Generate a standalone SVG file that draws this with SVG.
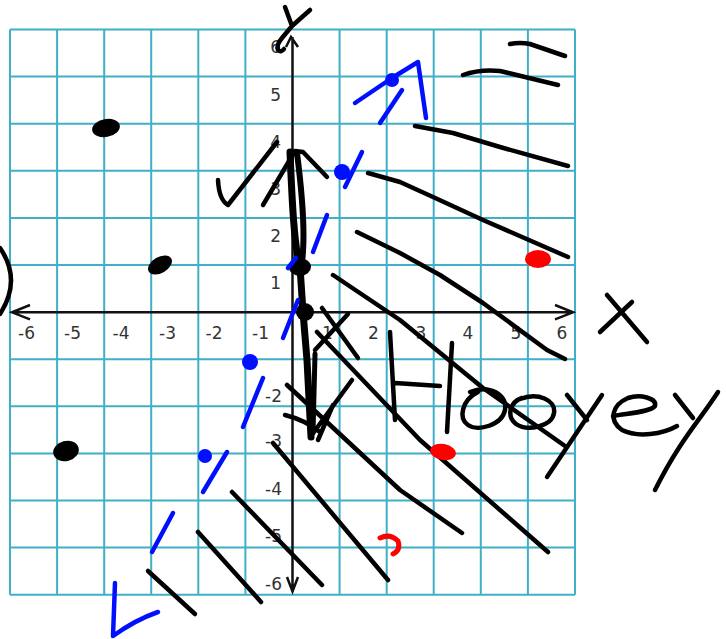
<svg xmlns="http://www.w3.org/2000/svg" width="726" height="639" viewBox="0 0 726 639">
<style>
.g{stroke:#3fb0c8;stroke-width:2;fill:none}
.ax{stroke:#111;stroke-width:2.5;fill:none}
.t{font-family:"DejaVu Sans",sans-serif;font-size:17px;fill:#333}
.k{stroke:#000;stroke-width:4.5;fill:none;stroke-linecap:round;stroke-linejoin:round}
.b{stroke:#0010ff;stroke-width:4.5;fill:none;stroke-linecap:round;stroke-linejoin:round}
</style>
<rect width="726" height="639" fill="#fff"/>
<g id="grid" class="g">
<path d="M10,29.5V594.7M57.1,29.5V594.7M104.2,29.5V594.7M151.2,29.5V594.7M198.3,29.5V594.7M245.4,29.5V594.7M339.6,29.5V594.7M386.7,29.5V594.7M433.7,29.5V594.7M480.8,29.5V594.7M527.9,29.5V594.7M575,29.5V594.7"/>
<path d="M10,29.5H575M10,76.6H575M10,123.7H575M10,170.8H575M10,217.9H575M10,265H575M10,359.2H575M10,406.3H575M10,453.4H575M10,500.5H575M10,547.6H575M10,594.7H575"/>
</g>
<g id="axes" class="ax">
<path d="M12,312.3H573M30,305L12,312.3L30,319.3M555,305L573,312.3L555,319.3"/>
<path d="M292.5,37V591.5M286,47L291,37L298,47M287,577L292.5,591.5L298,577"/>
</g>
<g id="labels" class="t">
<g text-anchor="middle">
<text x="26.5" y="339">-6</text><text x="72.5" y="339">-5</text><text x="121" y="339">-4</text><text x="167.5" y="339">-3</text><text x="214" y="339">-2</text><text x="260.5" y="339">-1</text>
<text x="327.5" y="339">1</text><text x="373.5" y="339">2</text><text x="421" y="339">3</text><text x="468" y="339">4</text><text x="516" y="339">5</text><text x="562" y="339">6</text>
</g>
<g text-anchor="end">
<text x="281" y="53">6</text><text x="281" y="101">5</text><text x="281" y="148">4</text><text x="281" y="195">3</text><text x="281" y="242">2</text><text x="281" y="289">1</text>
<text x="282" y="401.5">-2</text><text x="282" y="447">-3</text><text x="282" y="495">-4</text><text x="282" y="542">-5</text><text x="282" y="590">-6</text>
</g>
</g>
<g id="black-ink">
<path class="k" d="M285,7L292,26M310,10L292,26L282,38Q276,45 278,50Q281,53 284,49"/>
<path class="k" d="M0,248Q22,280 0,314"/>
<path class="k" d="M218,180Q219,200 228,205L277,142"/>
<path class="k" d="M263,205L295,151L303,152L327,177"/>
<path class="k" style="stroke-width:7" d="M290,152C292,200 294,245 300,267L303,312L307,360L311,437"/>
<path class="k" style="stroke-width:6" d="M297,153C303,200 305,240 302,262"/>
<path class="k" style="stroke-width:5" d="M315,354L313,433"/>
<path class="k" d="M311,436L352,380M318,440L333,405M285,415Q305,420 320,432"/>
<ellipse cx="300" cy="267" rx="11" ry="9"/>
<ellipse cx="305" cy="312" rx="9" ry="9"/>
<ellipse cx="106" cy="128" rx="14" ry="9" transform="rotate(-10 106 128)"/>
<ellipse cx="160" cy="265" rx="13" ry="8" transform="rotate(-30 160 265)"/>
<ellipse cx="66" cy="451" rx="13" ry="10" transform="rotate(-15 66 451)"/>
<path class="k" d="M463,75Q480,69 500,71L558,85M510,44Q520,42 530,44L565,56"/>
<path class="k" d="M415,126L453,133L500,147L568,166"/>
<path class="k" d="M368,173L400,182L433,197L483,220L568,257"/>
<path class="k" d="M357,232L400,253L440,275L483,303L547,350L565,359"/>
<path class="k" d="M333,275L400,320L483,388L565,446"/>
<path class="k" d="M322,308L358,358M348,314L315,350"/>
<path class="k" d="M317,332L420,440L548,552"/>
<path class="k" d="M287,385L400,490L462,533"/>
<path class="k" d="M273,443L388,580"/>
<path class="k" d="M232,492L322,585"/>
<path class="k" d="M198,532L261,602"/>
<path class="k" d="M148,571L195,614"/>
<path class="k" d="M390,332L395,420M395,383L440,386M452,343L447,432"/>
<path class="k" d="M470,392C490,384 508,395 505,410C502,425 478,432 468,425C458,418 462,400 478,392"/>
<path class="k" d="M520,399C538,392 556,400 554,413C552,426 528,432 516,424C506,416 510,402 522,398"/>
<path class="k" d="M567,395L587,420M602,395L547,477"/>
<path class="k" d="M613,416C630,413 650,412 655,406C657,398 640,394 628,398C612,405 608,420 622,430C638,438 663,434 677,426"/>
<path class="k" d="M675,395L693,418M718,392C700,420 680,440 655,490"/>
<path class="k" d="M607,295L647,342M632,302L600,332"/>
</g>
<g id="red-ink" fill="#ff0000">
<ellipse cx="538" cy="259" rx="13" ry="9"/>
<ellipse cx="443" cy="452" rx="13" ry="8" transform="rotate(10 443 452)"/>
<path d="M380,538Q390,533 398,541Q401,550 393,554" fill="none" stroke="#ff0000" stroke-width="5" stroke-linecap="round"/>
</g>
<g id="blue-ink">
<path class="b" d="M355,103L392,78L418,62L426,118"/>
<circle cx="392" cy="80" r="7" fill="#0010ff"/>
<path class="b" d="M380,123L402,90"/>
<path class="b" d="M362,152L345,187"/>
<circle cx="342" cy="172" r="8" fill="#0010ff"/>
<path class="b" d="M327,215L313,252"/>
<path class="b" d="M288,268L296,258"/>
<path class="b" d="M283,338L298,300"/>
<circle cx="250" cy="362" r="8" fill="#0010ff"/>
<path class="b" d="M263,378L243,427"/>
<path class="b" d="M227,452L203,492"/>
<circle cx="205" cy="456" r="7" fill="#0010ff"/>
<path class="b" d="M173,513L152,552"/>
<path class="b" d="M115,583L113,636Q135,620 158,612"/>
</g>
</svg>
